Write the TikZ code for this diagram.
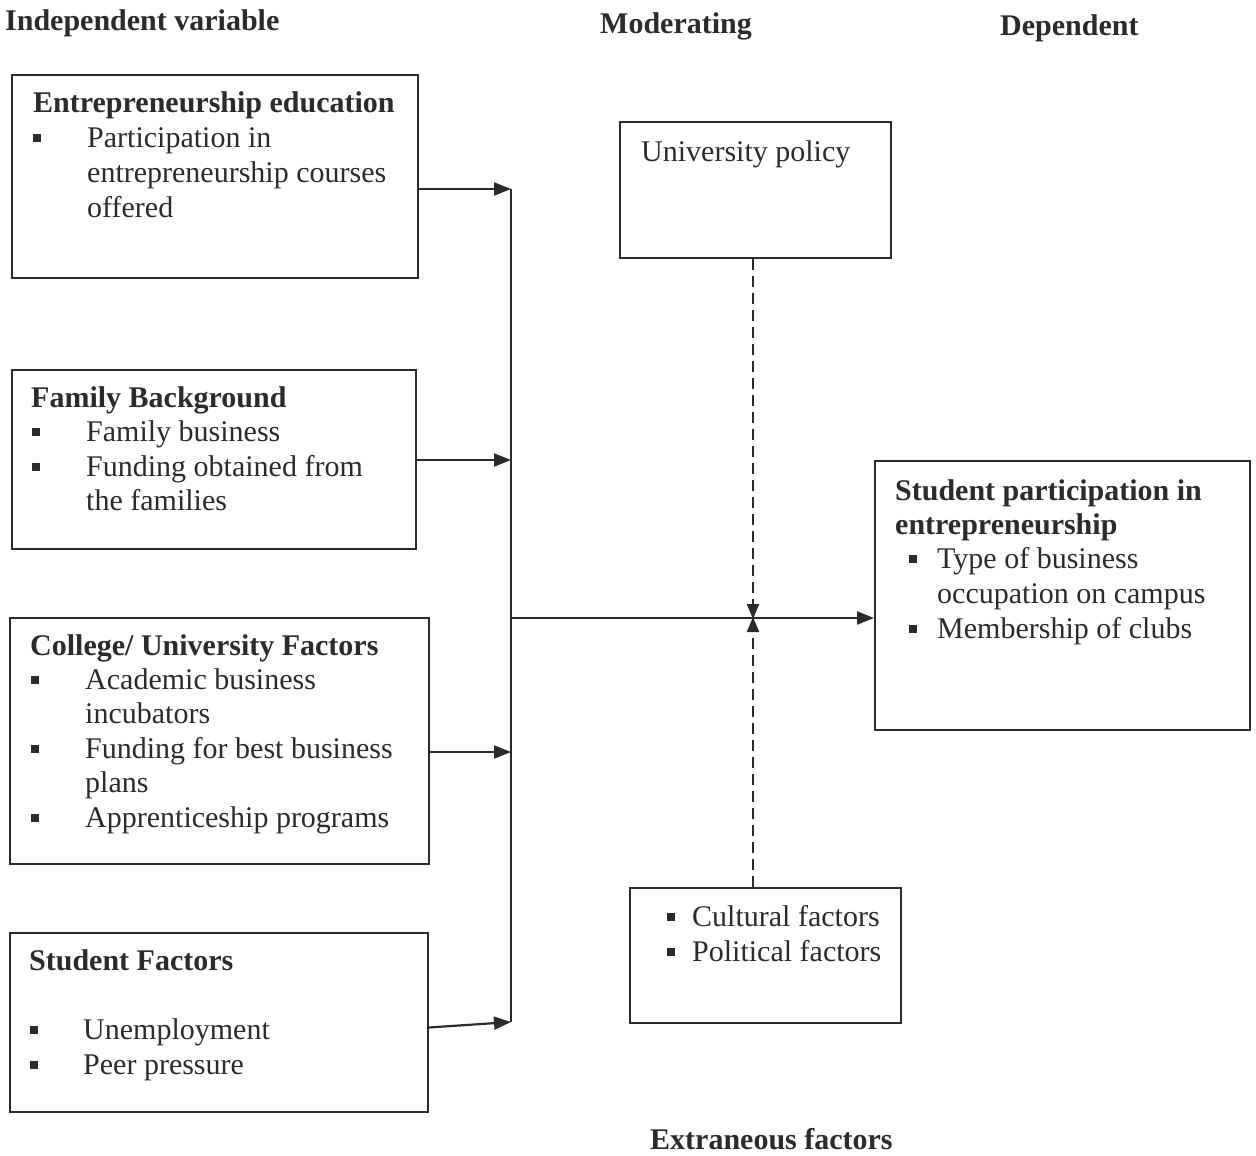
\documentclass[tikz,border=0pt]{standalone}
\usepackage{fontspec}
\setmainfont{Liberation Serif}
\usetikzlibrary{arrows.meta}
\definecolor{ink}{HTML}{2B2B2B}
\newcommand\sqbul{\rule[5pt]{8pt}{8pt}}
\begin{document}
\begin{tikzpicture}[x=1pt,y=-1pt,
  box/.style={draw=ink,line width=2pt,rectangle,inner sep=0pt},
  txt/.style={anchor=base west,inner sep=0pt,text=ink,font=\fontsize{30}{35}\selectfont},
  hdr/.style={txt,font=\fontsize{30}{35}\selectfont\bfseries},
  bul/.style={anchor=base west,inner sep=0pt,text=ink},
  arr/.style={draw=ink,line width=2.2pt,-{Triangle[length=17pt,width=13pt]}},
  dsh/.style={draw=ink,line width=2.2pt,dash pattern=on 11pt off 6pt,-{Triangle[length=15pt,width=12pt]}}]
\useasboundingbox (0,0) rectangle (1256,1156);
\fill[white] (0,0) rectangle (1256,1156);

% headers
\node[hdr] (h1) at (5,31) {Independent variable};
\node[hdr] (h2) at (600,34) {Moderating};
\node[hdr] (h3) at (1000,36) {Dependent};
\node[hdr] (h4) at (650,1149) {Extraneous factors};

% boxes
\node[box,minimum width=406pt,minimum height=203pt] (ee) at (215,176.5) {};
\node[box,minimum width=404pt,minimum height=179pt] (fb) at (214,459.5) {};
\node[box,minimum width=419pt,minimum height=246pt] (cu) at (219.5,741) {};
\node[box,minimum width=418pt,minimum height=179pt] (sf) at (219,1022.5) {};
\node[box,minimum width=271pt,minimum height=136pt] (up) at (755.5,190) {};
\node[box,minimum width=375pt,minimum height=269pt] (sp) at (1062.5,595.5) {};
\node[box,minimum width=271pt,minimum height=135pt] (cf) at (765.5,955.5) {};

% box 1
\node[hdr] (ee0) at (33,113) {Entrepreneurship education};
\node[bul] (ee1b) at (33,147) {\color{ink}\sqbul};
\node[txt] (ee1) at (87,147) {Participation in};
\node[txt] (ee2) at (87,182) {entrepreneurship courses};
\node[txt] (ee3) at (87,217) {offered};

% box 2
\node[hdr] (fb0) at (31,407) {Family Background};
\node[bul] (fb1b) at (32,441) {\color{ink}\sqbul};
\node[txt] (fb1) at (86,441) {Family business};
\node[bul] (fb2b) at (32,476) {\color{ink}\sqbul};
\node[txt] (fb2) at (86,476) {Funding obtained from};
\node[txt] (fb3) at (86,510) {the families};

% box 3
\node[hdr] (cu0) at (30,655) {College/ University Factors};
\node[bul] (cu1b) at (31,689) {\color{ink}\sqbul};
\node[txt] (cu1) at (85,689) {Academic business};
\node[txt] (cu2) at (85,723) {incubators};
\node[bul] (cu3b) at (31,758) {\color{ink}\sqbul};
\node[txt] (cu3) at (85,758) {Funding for best business};
\node[txt] (cu4) at (85,792) {plans};
\node[bul] (cu5b) at (31,827) {\color{ink}\sqbul};
\node[txt] (cu5) at (85,827) {Apprenticeship programs};

% box 4
\node[hdr] (sf0) at (29,970) {Student Factors};
\node[bul] (sf1b) at (30,1039) {\color{ink}\sqbul};
\node[txt] (sf1) at (83,1039) {Unemployment};
\node[bul] (sf2b) at (30,1074) {\color{ink}\sqbul};
\node[txt] (sf2) at (83,1074) {Peer pressure};

% university policy
\node[txt] (up1) at (641,161) {University policy};

% student participation
\node[hdr] (sp0) at (895,500) {Student participation in};
\node[hdr] (sp1) at (895,534) {entrepreneurship};
\node[bul] (sp2b) at (909,568) {\color{ink}\sqbul};
\node[txt] (sp2) at (937,568) {Type of business};
\node[txt] (sp3) at (937,603) {occupation on campus};
\node[bul] (sp4b) at (909,638) {\color{ink}\sqbul};
\node[txt] (sp4) at (937,638) {Membership of clubs};

% cultural
\node[bul] (cf1b) at (667,926) {\color{ink}\sqbul};
\node[txt] (cf1) at (692,926) {Cultural factors};
\node[bul] (cf2b) at (667,961) {\color{ink}\sqbul};
\node[txt] (cf2) at (692,961) {Political factors};

% connectors
\coordinate (b1) at (511,189);
\coordinate (b2) at (511,460);
\coordinate (b3) at (511,752);
\coordinate (b4) at (511,1022);
\coordinate (bm) at (511,618);
\coordinate (mid) at (753,618);
\draw[draw=ink,line width=2.2pt] (b1) -- (b4);
\draw[arr] (ee.east |- b1) -- (b1);
\draw[arr] (fb.east |- b2) -- (b2);
\draw[arr] (cu.east |- b3) -- (b3);
\draw[arr] ([yshift=-5pt]sf.east) -- (b4);
\draw[arr] (bm) -- (sp.west |- bm);
\draw[dsh] (up.south -| mid) -- ([yshift=-1pt]mid);
\draw[dsh] (cf.north -| mid) -- ([yshift=1pt]mid);
\end{tikzpicture}
\end{document}
